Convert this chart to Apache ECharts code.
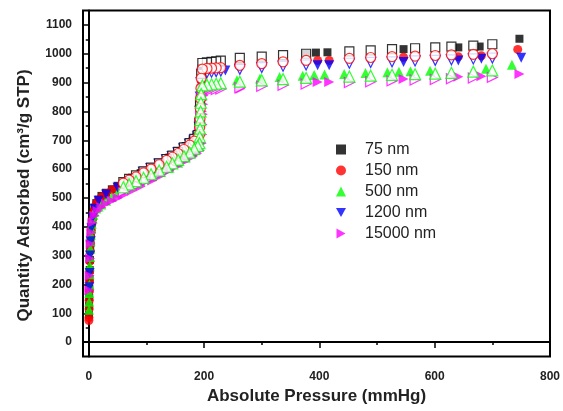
<!DOCTYPE html>
<html><head><meta charset="utf-8">
<script src="https://cdn.jsdelivr.net/npm/echarts@6/dist/echarts.min.js"></script>
<style>html,body{margin:0;padding:0;background:#fff}#c{width:563px;height:411px}</style>
</head><body><div id="c"></div>
<script>
// ---- data (Pressure mmHg, Quantity cm3/g STP) ----
var legendNames = ['75 nm', '150 nm', '500 nm', '1200 nm', '15000 nm'];
var colors = ['#000000', '#ff0000', '#00ff00', '#0000ff', '#ff00ff'];
var xLabels = [0, 200, 400, 600, 800];
var xMinor = [100, 300, 500, 700];
var yLabels = [0, 100, 200, 300, 400, 500, 600, 700, 800, 900, 1000, 1100];
var yMinor = [50, 150, 250, 350, 450, 550, 650, 750, 850, 950, 1050];

// adsorption (filled)
var ads75 = [[0.4,95],[0.6,125],[0.8,155],[1.0,185],[1.3,220],[1.6,250],[2.0,285],[2.5,320],[3.0,345],[3.6,370],[4.3,392],[5.2,412],[6.5,432],[8,450],[10,466],[13,482],[17,494],[22,507],[30,518],[40,530],[50,542],[60,554],[75,570],[90,586],[110,604],[125,620],[140,640],[155,660],[168,680],[180,700],[188,718],[191,745],[192,790],[193,840],[194,880],[195,920],[196,950],[377,1000],[394,1004],[414,1005],[546,1016],[641,1022],[678,1025],[747,1052]];
var ads150 = [[0.2,75],[0.3,85],[0.6,115],[0.8,145],[1.0,178],[1.3,212],[1.6,245],[2.0,280],[2.5,315],[3.0,340],[3.6,365],[4.3,388],[5.2,408],[6.5,428],[8,447],[10,463],[13,480],[17,492],[22,503],[30,515],[40,528],[50,538],[60,550],[75,565],[90,582],[110,600],[125,616],[140,636],[155,656],[168,676],[180,696],[188,712],[191,740],[192,785],[193,830],[194,870],[195,905],[196,935],[260,960],[397,977],[417,977],[546,988],[641,990],[681,993],[744,1015]];
var ads500 = [[0.5,112],[0.7,140],[0.9,170],[1.1,200],[1.4,235],[1.7,265],[2.1,295],[2.6,325],[3.1,350],[3.7,372],[4.4,392],[5.3,410],[6.6,428],[8,442],[10,453],[13,463],[17,470],[22,477],[30,490],[40,503],[50,518],[60,532],[75,545],[90,558],[110,575],[125,590],[140,605],[155,622],[168,640],[180,660],[188,680],[257,908],[297,914],[331,919],[371,924],[391,926],[409,928],[443,930],[480,933],[518,936],[538,938],[558,939],[592,941],[689,948],[734,962]];
var ads1200 = [[1.0,190],[1.5,240],[2.2,300],[3.2,350],[4.5,395],[6.5,430],[10,462],[17,490],[30,512],[50,535],[75,562],[110,598],[140,632],[168,672],[188,708],[237,942],[397,960],[417,960],[546,971],[641,977],[681,983],[750,986]];
var ads15000 = [[1.0,180],[1.5,230],[2.2,290],[3.2,340],[4.5,380],[6.5,415],[10,438],[15,455],[22,468],[30,480],[40,490],[50,500],[60,510],[75,525],[90,540],[110,560],[125,577],[140,595],[155,612],[168,628],[180,643],[188,655],[193,665],[196,690],[197,720],[197.5,755],[198,790],[198.5,825],[199,855],[200,875],[263,879],[397,902],[417,902],[546,912],[641,920],[681,922],[747,930]];

// desorption (hollow)
var des75 = [[700,1033],[667,1028],[629,1025],[601,1022],[566,1019],[526,1016],[489,1012],[452,1008],[377,1000],[337,995],[300,990],[262,986],[229,976],[221,974],[213,972],[205,970],[197,968],[195,930],[193,830],[192,760],[189,718],[183,705],[175,690],[165,675],[155,660],[145,647],[135,635],[122,620],[108,605],[95,592],[82,578],[70,566],[60,555]];
var des150 = [[700,1000],[667,998],[629,996],[601,994],[566,992],[526,990],[489,987],[452,984],[377,977],[337,972],[300,966],[262,960],[229,952],[221,951],[213,950],[205,949],[197,947],[195,915],[194.5,880],[194,845],[193.5,810],[193,775],[192.5,745],[192,720],[189,708],[183,697],[175,683],[165,668],[155,654],[145,641],[135,630],[122,615],[108,600],[95,587],[82,573],[70,562],[60,551]];
var des500 = [[700,942],[667,938],[629,934],[601,931],[566,929],[526,927],[489,924],[452,921],[377,916],[337,912],[300,908],[262,903],[229,898],[221,896],[213,894],[205,892],[197,890],[195,860],[194.5,830],[194,800],[193.5,770],[193,740],[192.5,712],[192,690],[189,680],[183,670],[175,657],[165,645],[155,632],[145,620],[135,608],[122,595],[108,582],[95,570],[82,558],[70,547],[60,537]];
var des1200 = [[700,985],[667,982],[629,979],[601,977],[566,975],[526,972],[489,970],[452,967],[377,961],[337,957],[300,952],[262,946],[229,940],[221,938],[213,936],[205,934],[197,932],[195,900],[194,850],[193,800],[192,745],[189,712],[183,700],[175,686],[165,670],[155,656],[145,643],[135,632],[122,617],[108,602],[95,589]];
var des15000 = [[700,918],[667,916],[629,913],[601,911],[566,909],[526,906],[489,903],[452,900],[377,895],[337,891],[300,887],[262,882],[229,878],[221,876],[213,875],[205,873],[197,871],[195,840],[194,800],[193,760],[192,720],[190,690],[185,668],[175,650],[160,628],[145,607],[130,590],[115,575],[100,560],[85,545],[70,532],[60,522]];

var adsSets = [ads75, ads150, ads500, ads1200, ads15000];
var desSets = [des75, des150, des500, des1200, des15000];
var symbols = ['rect', 'circle', 'triangle', 'triangle', 'triangle'];
var rotations = [0, 0, 0, 180, -90];
var sizesFilled = [8, 9, 10, 10, 10];
var sizesHollow = [9, 10, 11, 10, 10];
var hollowOrder = [3, 4, 0, 1, 2];
var legendIcons = ['rect', 'circle', 'triangle', 'path://M0,0 L10,0 L5,9 Z', 'path://M0,0 L9,5 L0,10 Z'];

var FONT = '"Liberation Sans", Arial, sans-serif';
var series = [];
hollowOrder.forEach(function (i) {
  series.push({
    name: legendNames[i] + ' desorption', type: 'scatter', xAxisIndex: 0, yAxisIndex: 0,
    data: desSets[i], symbol: symbols[i], symbolRotate: rotations[i], symbolSize: sizesHollow[i],
    itemStyle: { color: '#ffffff', borderColor: colors[i], borderWidth: 1.2 }, z: 3, silent: true
  });
});
for (var j = 0; j < 5; j++) {
  series.push({
    name: legendNames[j], type: 'scatter', xAxisIndex: 0, yAxisIndex: 0,
    data: adsSets[j], symbol: symbols[j], symbolRotate: rotations[j], symbolSize: sizesFilled[j],
    itemStyle: { color: colors[j] }, z: 2, silent: true
  });
}
var legendData = legendNames.map(function (n, k) {
  return { name: n, icon: legendIcons[k], symbolRotate: 0 };
});

function plain(v) { return String(v); }

var chart = echarts.init(document.getElementById('c'), null, { renderer: 'canvas' });
chart.setOption({
  animation: false,
  backgroundColor: '#ffffff',
  grid: { left: 83, right: 9.5, top: 10.5, bottom: 54.5, show: true, borderColor: '#000', borderWidth: 2, backgroundColor: 'transparent' },
  legend: {
    data: legendData, orient: 'vertical', left: 331, top: 136.5,
    itemWidth: 10, itemHeight: 10, itemGap: 5, symbolRotate: 0,
    textStyle: { fontFamily: FONT, fontSize: 16, color: '#222', padding: [0, 0, 0, 14] }
  },
  xAxis: [{
    type: 'value', min: -10, max: 800,
    name: 'Absolute Pressure (mmHg)', nameLocation: 'middle', nameGap: 28,
    nameTextStyle: { fontFamily: FONT, fontSize: 17, fontWeight: 'bold', color: '#222' },
    axisLine: { lineStyle: { color: '#000', width: 2 } },
    axisTick: { customValues: xLabels, length: 6, lineStyle: { color: '#000', width: 1.5 } },
    axisLabel: { customValues: xLabels, formatter: plain, fontFamily: FONT, fontSize: 12, fontWeight: 'bold', color: '#222', margin: 14 },
    splitLine: { show: false }
  }, {
    type: 'value', min: -10, max: 800, position: 'bottom',
    axisLine: { show: false },
    axisTick: { customValues: xMinor, length: 3, lineStyle: { color: '#000', width: 1.5 } },
    axisLabel: { show: false }, splitLine: { show: false }
  }],
  yAxis: [{
    type: 'value', min: -50, max: 1150,
    name: 'Quantity Adsorbed (cm³/g STP)', nameLocation: 'middle', nameGap: 50,
    nameTextStyle: { fontFamily: FONT, fontSize: 17, fontWeight: 'bold', color: '#222', padding: [0, 24, 0, 0] },
    axisLine: { lineStyle: { color: '#000', width: 2 } },
    axisTick: { customValues: yLabels, length: 6, lineStyle: { color: '#000', width: 1.5 } },
    axisLabel: { customValues: yLabels, formatter: plain, fontFamily: FONT, fontSize: 12, fontWeight: 'bold', color: '#222', margin: 11 },
    splitLine: { show: false }
  }, {
    type: 'value', min: -50, max: 1150, position: 'left', offset: 0,
    axisLine: { show: false },
    axisTick: { customValues: yMinor, length: 3, lineStyle: { color: '#000', width: 1.5 } },
    axisLabel: { show: false }, splitLine: { show: false }
  }],
  series: series
});
</script></body></html>
